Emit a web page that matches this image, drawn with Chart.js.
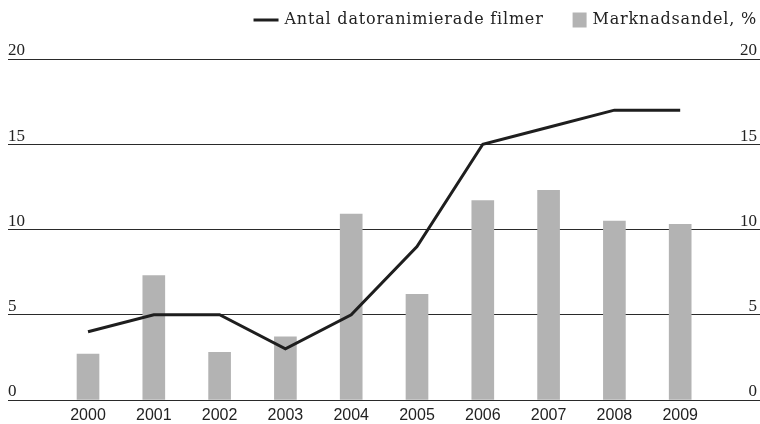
<!DOCTYPE html>
<html lang="sv">
<head>
    <meta charset="UTF-8">
    <title>Datoranimerade filmer</title>
    <script src="https://cdn.jsdelivr.net/npm/chart.js"></script>
    <style>
        body { margin: 0; background: #fff; }
        canvas { display: block; }
    </style>
</head>
<body>
<canvas id="chart" width="760" height="424"></canvas>
<script>
    // data
    const years = ['2000', '2001', '2002', '2003', '2004', '2005', '2006', '2007', '2008', '2009'];
    const films = [4, 5, 5, 3, 5, 9, 15, 16, 17, 17];
    const marketShare = [2.7, 7.3, 2.8, 3.7, 10.9, 6.2, 11.7, 12.3, 10.5, 10.3];
    const yTicks = [0, 5, 10, 15, 20];

    const ink = '#222';

    // legend drawn as one right-aligned row at the top
    const legendRow = {
        id: 'legendRow',
        afterDraw(chart) {
            const ctx = chart.ctx;
            const line = chart.data.datasets[0];
            const bars = chart.data.datasets[1];
            const y = 20;
            let x = 757;
            ctx.save();
            ctx.font = '16px "DejaVu Serif"';
            ctx.letterSpacing = '0.8px';
            ctx.textBaseline = 'middle';
            ctx.fillStyle = ink;
            x -= ctx.measureText(bars.label).width;
            ctx.fillText(bars.label, x, y);
            x -= 6 + 14;
            ctx.fillStyle = bars.backgroundColor;
            ctx.fillRect(x, y - 7.5, 14, 15);
            x -= 29;
            ctx.fillStyle = ink;
            x -= ctx.measureText(line.label).width;
            ctx.fillText(line.label, x, y);
            x -= 6;
            ctx.strokeStyle = line.borderColor;
            ctx.lineWidth = 3;
            ctx.beginPath();
            ctx.moveTo(x - 25, y);
            ctx.lineTo(x, y);
            ctx.stroke();
            ctx.restore();
        }
    };

    const yLabelFont = { family: '"Liberation Serif"', size: 17 };

    new Chart(document.getElementById('chart'), {
        data: {
            datasets: [{
                type: 'line',
                label: 'Antal datoranimierade filmer',
                data: films.map((v, i) => ({ x: i, y: v })),
                borderColor: '#1e1e1e',
                borderWidth: 3,
                pointRadius: 0,
                tension: 0,
                order: 0
            }, {
                type: 'bar',
                label: 'Marknadsandel, %',
                data: marketShare.map((v, i) => ({ x: i, y: v })),
                backgroundColor: '#b3b3b3',
                barThickness: 22,
                order: 1
            }]
        },
        options: {
            responsive: false,
            animation: false,
            devicePixelRatio: 1,
            layout: { padding: { top: 59, left: 8, right: 0, bottom: 0 } },
            plugins: {
                legend: { display: false },
                tooltip: { enabled: false }
            },
            scales: {
                x: {
                    type: 'linear',
                    offset: false,
                    min: -1.216,
                    max: 10.213,
                    grid: { display: false, drawTicks: false, offset: false },
                    border: { display: false },
                    afterBuildTicks: (scale) => { scale.ticks = years.map((_, i) => ({ value: i })); },
                    afterFit: (scale) => { scale.height = 24; },
                    ticks: {
                        autoSkip: false,
                        maxRotation: 0,
                        padding: 6,
                        color: ink,
                        font: { family: '"Liberation Sans"', size: 16 },
                        callback: (v) => years[v]
                    }
                },
                y: {
                    position: 'left',
                    min: 0,
                    max: 20,
                    afterBuildTicks: (scale) => { scale.ticks = yTicks.map(v => ({ value: v })); },
                    afterFit: (scale) => { scale.width = 0; },
                    grid: { color: '#2a2a2a', lineWidth: 1, drawTicks: false },
                    border: { display: false },
                    ticks: { mirror: true, padding: 0, labelOffset: -8, color: ink, font: yLabelFont }
                },
                y2: {
                    position: 'right',
                    min: 0,
                    max: 20,
                    afterBuildTicks: (scale) => { scale.ticks = yTicks.map(v => ({ value: v })); },
                    afterFit: (scale) => { scale.width = 0; },
                    grid: { display: false, drawTicks: false },
                    border: { display: false },
                    ticks: { mirror: true, padding: -3, labelOffset: -8, color: ink, font: yLabelFont }
                }
            }
        },
        plugins: [legendRow]
    });
</script>
</body>
</html>
